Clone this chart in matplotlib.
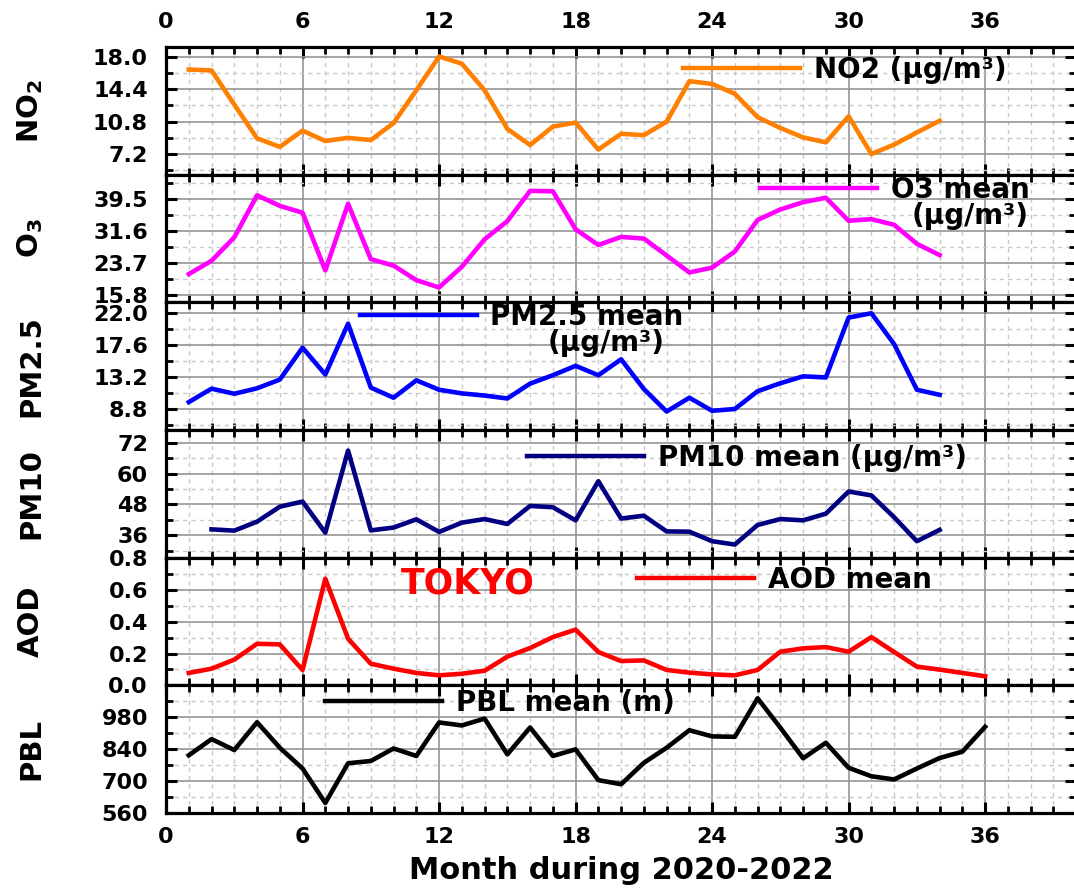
import matplotlib
matplotlib.use("Agg")
import matplotlib.pyplot as plt
from matplotlib.ticker import MultipleLocator, FixedLocator, FormatStrFormatter

plt.rcParams["font.family"] = ["DejaVu Sans"]
plt.rcParams["font.weight"] = "bold"
plt.rcParams["axes.labelweight"] = "bold"
plt.rcParams["mathtext.fontset"] = "dejavusans"

# Monthly means, Tokyo, 2020-2022
months_34 = list(range(1, 35))
months_pm10 = list(range(2, 35))
months_36 = list(range(1, 37))

no2 = [16.6, 16.5, 12.7, 8.95, 8.0, 9.8, 8.65, 9.0, 8.75, 10.65, 14.3, 18.05,
       17.25, 14.3, 10.0, 8.2, 10.25, 10.7, 7.7, 9.45, 9.3, 10.8, 15.3, 15.0,
       13.9, 11.3, 10.1, 9.05, 8.5, 11.4, 7.2, 8.25, 9.6, 10.9]
o3 = [20.9, 24.2, 30.0, 40.4, 37.8, 36.1, 21.8, 38.3, 24.6, 23.0, 19.4, 17.6,
      22.7, 29.5, 34.0, 41.5, 41.4, 32.0, 28.1, 30.1, 29.7, 25.5, 21.3, 22.5,
      26.5, 34.3, 36.9, 38.7, 39.8, 34.1, 34.5, 33.1, 28.4, 25.6]
pm25 = [9.7, 11.55, 10.85, 11.6, 12.8, 17.2, 13.5, 20.5, 11.7, 10.3, 12.7, 11.4,
        10.9, 10.6, 10.2, 12.25, 13.4, 14.7, 13.4, 15.6, 11.5, 8.4, 10.3, 8.5,
        8.75, 11.2, 12.3, 13.25, 13.1, 21.35, 21.95, 17.7, 11.4, 10.7]
pm10 = [38.3, 37.8, 41.3, 47.1, 49.1, 37.0, 68.9, 37.9, 39.0, 42.2, 37.3,
        40.9, 42.3, 40.4, 47.4, 46.9, 41.8, 57.0, 42.5, 43.6, 37.5, 37.4, 33.7,
        32.4, 40.0, 42.3, 41.8, 44.4, 53.0, 51.5, 43.0, 33.7, 38.1]
aod = [0.078, 0.105, 0.162, 0.262, 0.258, 0.097, 0.672, 0.294, 0.136, 0.105,
       0.078, 0.063, 0.073, 0.092, 0.181, 0.235, 0.304, 0.351, 0.21, 0.153,
       0.157, 0.097, 0.08, 0.069, 0.063, 0.097, 0.212, 0.233, 0.241, 0.212,
       0.304, 0.21, 0.118, 0.099, 0.078, 0.057]
pbl = [813, 884, 836, 958, 846, 755, 604, 778, 788, 843, 810, 957, 944, 974,
       817, 935, 810, 839, 704, 686, 780, 846, 923, 896, 894, 1063, 934, 800,
       868, 758, 721, 707, 755, 801, 829, 938]

no2_ticks = [7.2, 10.8, 14.4, 18.0]
o3_ticks = [15.8, 23.7, 31.6, 39.5]
pm25_ticks = [8.8, 13.2, 17.6, 22.0]
pm10_ticks = [36, 48, 60, 72]
aod_ticks = [0.0, 0.2, 0.4, 0.6, 0.8]
pbl_ticks = [560, 700, 840, 980]


def style_panel(ax, ylim, ticks, step, ylabel):
    ax.set_ylim(*ylim)
    ax.yaxis.set_major_locator(FixedLocator(ticks))
    minors = [ticks[0] - step / 2.0] + [t + step / 2.0 for t in ticks]
    ax.yaxis.set_minor_locator(FixedLocator(minors))
    ax.set_ylabel(ylabel, fontsize=21, fontweight="bold")
    ax.yaxis.set_label_coords(-0.133, 0.5)
    ax.grid(which="major", color="#959595", lw=1.2, ls="-")
    ax.grid(which="minor", color="#c8c8c8", lw=1.0, ls=(0, (3, 3)))
    ax.tick_params(which="both", direction="in", top=True, right=True,
                   labelbottom=False, labelsize=16, width=2.2)
    ax.tick_params(which="major", length=8, pad=13)
    ax.tick_params(which="minor", length=5, width=2)
    for sp in ax.spines.values():
        sp.set_linewidth(2.3)


def add_key(ax, color, label, x, y):
    h, = ax.plot([], [], color=color, lw=3.2)
    ax.legend([h], [label], loc="center left", bbox_to_anchor=(x, y),
              frameon=False, prop={"weight": "bold", "size": 20},
              handlelength=4.2, handletextpad=0.5, borderpad=0,
              borderaxespad=0)


def main():
    fig, axs = plt.subplots(6, 1, sharex=True, figsize=(10.74, 8.88), dpi=100)
    fig.subplots_adjust(left=0.1546, right=1.002, top=0.947, bottom=0.0845,
                        hspace=0)

    ax = axs[0]
    ax.plot(months_34, no2, color="#FF8000", lw=3.3)
    style_panel(ax, (4.9, 19.1), no2_ticks, 3.6, r"NO$_\mathbf{2}$")
    ax.yaxis.set_major_formatter(FormatStrFormatter("%.1f"))
    add_key(ax, "#FF8000", "NO2 (μg/m³)", 0.568, 0.82)

    ax = axs[1]
    ax.plot(months_34, o3, color="#FF00FF", lw=3.3)
    style_panel(ax, (13.9, 45.5), o3_ticks, 7.9, r"O$_\mathbf{3}$")
    add_key(ax, "#FF00FF", "O3 mean", 0.653, 0.88)
    ax.text(0.884, 0.68, "(μg/m³)", transform=ax.transAxes, ha="center",
            va="center", fontsize=20, fontweight="bold")

    ax = axs[2]
    ax.plot(months_34, pm25, color="#0000FF", lw=3.3)
    style_panel(ax, (5.85, 23.45), pm25_ticks, 4.4, "PM2.5")
    ax.yaxis.set_major_formatter(FormatStrFormatter("%.1f"))
    add_key(ax, "#0000FF", "PM2.5 mean", 0.213, 0.885)
    ax.text(0.484, 0.68, "(μg/m³)", transform=ax.transAxes, ha="center",
            va="center", fontsize=20, fontweight="bold")

    ax = axs[3]
    ax.plot(months_pm10, pm10, color="#000080", lw=3.3)
    style_panel(ax, (27.3, 76.9), pm10_ticks, 12, "PM10")
    add_key(ax, "#000080", "PM10 mean (μg/m³)", 0.397, 0.78)

    ax = axs[4]
    ax.plot(months_36, aod, color="#FF0000", lw=3.3)
    style_panel(ax, (0.0, 0.805), aod_ticks, 0.2, "AOD")
    ax.yaxis.set_major_formatter(FormatStrFormatter("%.1f"))
    add_key(ax, "#FF0000", "AOD mean", 0.518, 0.825)
    ax.text(0.332, 0.80, "TOKYO", transform=ax.transAxes, ha="center",
            va="center", color="#FF0000", fontsize=25, fontweight="bold")

    ax = axs[5]
    ax.plot(months_36, pbl, color="black", lw=3.3)
    style_panel(ax, (560, 1120), pbl_ticks, 140, "PBL")
    add_key(ax, "black", "PBL mean (m)", 0.175, 0.86)

    axs[-1].set_xlim(0, 40)
    axs[-1].xaxis.set_major_locator(MultipleLocator(6))
    axs[-1].xaxis.set_minor_locator(MultipleLocator(1))
    axs[0].tick_params(labeltop=True)
    axs[-1].tick_params(labelbottom=True)
    axs[0].tick_params(axis="x", which="major", pad=11)
    axs[-1].tick_params(axis="x", which="major", pad=10)
    axs[-1].set_xlabel("Month during 2020-2022", fontsize=22, fontweight="bold")
    axs[-1].xaxis.set_label_coords(0.5, -0.34)

    fig.savefig("out.png", dpi=100)


if __name__ == "__main__":
    main()
